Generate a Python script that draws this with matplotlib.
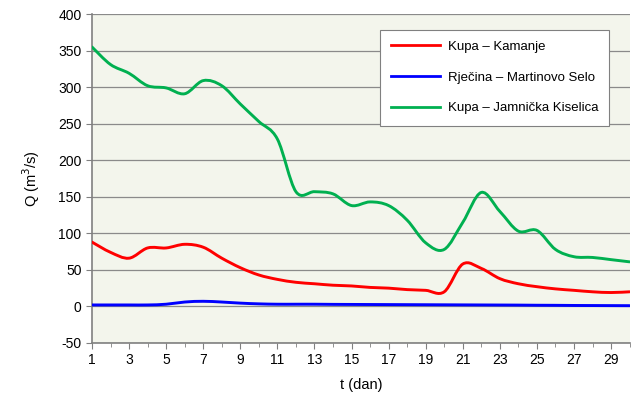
import numpy as np
import matplotlib
matplotlib.use("Agg")
import matplotlib.pyplot as plt
from matplotlib.path import Path
from matplotlib.patches import PathPatch
from matplotlib.lines import Line2D

plt.rcParams['font.family'] = ['Liberation Sans', 'DejaVu Sans']
plt.rcParams['axes.unicode_minus'] = False

days = list(range(1, 31))
kamanje = [88, 74, 66, 80, 80, 85, 81, 66, 53, 43, 37, 33, 31, 29, 28,
           26, 25, 23, 22, 20, 58, 52, 38, 31, 27, 24, 22, 20, 19, 20]
martinovo = [2, 2, 2, 2, 3, 6, 7, 6, 4.5, 3.5, 3, 3, 3, 2.8, 2.7,
             2.6, 2.5, 2.4, 2.3, 2.2, 2.1, 2.0, 1.9, 1.8, 1.6, 1.5, 1.3, 1.2, 1.1, 1.0]
jamnicka = [355, 331, 319, 302, 299, 291, 309, 302, 277, 253, 229, 157, 157, 154, 138,
            143, 138, 118, 87, 78, 115, 156, 130, 103, 104, 78, 68, 67, 64, 61]

series = [("Kupa \u2013 Kamanje", kamanje, "#ff0000"),
          ("Rje\u010dina \u2013 Martinovo Selo", martinovo, "#0000ff"),
          ("Kupa \u2013 Jamni\u010dka Kiselica", jamnicka, "#00b050")]


def smooth_path(x, y):
    # Excel-style smoothed line: Catmull-Rom segments as cubic Beziers
    pts = np.column_stack([x, y]).astype(float)
    verts = [pts[0]]
    codes = [Path.MOVETO]
    n = len(pts)
    for i in range(n - 1):
        p0 = pts[max(i - 1, 0)]
        p1 = pts[i]
        p2 = pts[i + 1]
        p3 = pts[min(i + 2, n - 1)]
        c1 = p1 + (p2 - p0) / 6.0
        c2 = p2 - (p3 - p1) / 6.0
        verts += [c1, c2, p2]
        codes += [Path.CURVE4] * 3
    return Path(verts, codes)


fig = plt.figure(figsize=(6.31, 4.03), dpi=100)
ax = fig.add_axes([0.1458, 0.149, 0.852, 0.816])
ax.set_facecolor("#f3f5ec")

handles = []
for name, vals, col in series:
    ax.add_patch(PathPatch(smooth_path(days, vals), fill=False, edgecolor=col,
                           lw=2.1, zorder=3, capstyle='round', joinstyle='round'))
    handles.append(Line2D([], [], color=col, lw=2, label=name))

ax.set_xlim(1, 30)
ax.set_ylim(-50, 400)
ax.set_yticks(range(-50, 401, 50))
ax.set_xticks(range(1, 30, 2))
ax.set_xticks(range(1, 31), minor=True)
ax.yaxis.grid(True, color="#8a8a8a", lw=0.9)
ax.set_axisbelow(True)

for s in ["top", "right"]:
    ax.spines[s].set_visible(False)
for s in ["left", "bottom"]:
    ax.spines[s].set_color("#808080")
    ax.spines[s].set_linewidth(1.2)

ax.tick_params(axis='both', which='both', direction='out', color="#808080",
               labelsize=10, labelcolor="#000000")
ax.tick_params(axis='both', which='major', length=4)
ax.tick_params(axis='x', which='minor', length=3)

ax.set_xlabel("t (dan)", fontsize=10.5, labelpad=8)
ax.set_ylabel("Q (m$^3$/s)", fontsize=10.5, labelpad=12)

leg = ax.legend(handles=handles, loc="upper left", bbox_to_anchor=(0.535, 0.953),
                borderaxespad=0, fontsize=9.5, frameon=True, fancybox=False,
                framealpha=1, edgecolor="#808080", handlelength=3.7,
                labelspacing=1.4, borderpad=0.85, handletextpad=0.6)
leg.get_frame().set_linewidth(0.8)

fig.savefig("out.png", dpi=100)
